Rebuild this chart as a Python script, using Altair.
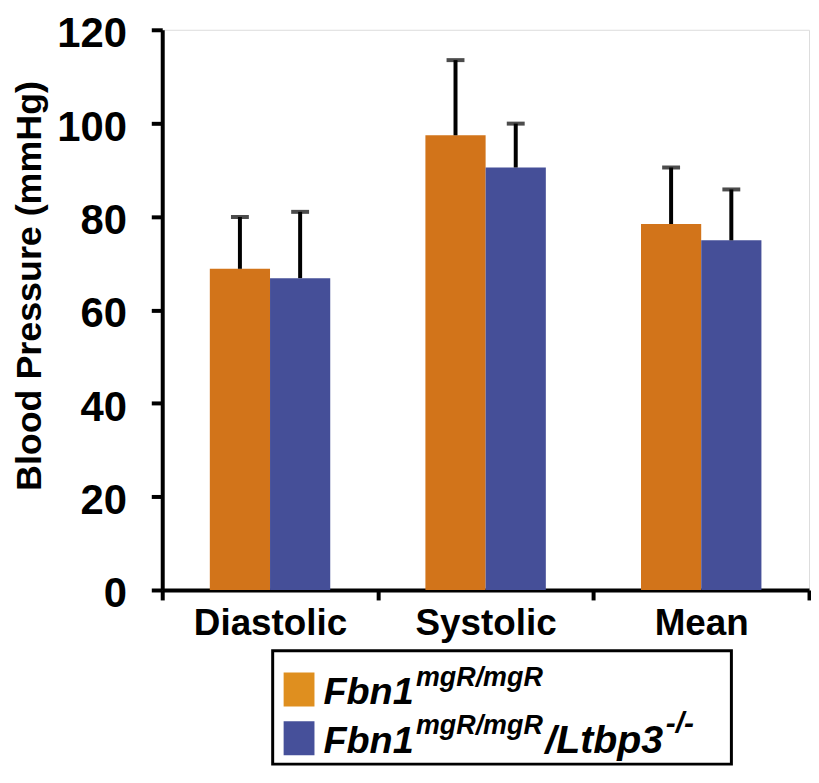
import altair as alt
import pandas as pd

categories = ["Diastolic", "Systolic", "Mean"]
groups = ["Fbn1 mgR/mgR", "Fbn1 mgR/mgR / Ltbp3 -/-"]
means_fbn1 = [68.8, 97.4, 78.4]
errs_fbn1 = [11.1, 16.1, 12.1]
means_dko = [66.8, 90.5, 74.9]
errs_dko = [14.2, 9.4, 10.9]
y_ticks = [0, 20, 40, 60, 80, 100, 120]

bar_colors = ["#D2741A", "#454F98"]
swatch_colors = ["#DF8F1F", "#46509A"]

rows = []
for i, c in enumerate(categories):
    rows.append({"category": c, "group": groups[0], "mean": means_fbn1[i], "upper": means_fbn1[i] + errs_fbn1[i]})
    rows.append({"category": c, "group": groups[1], "mean": means_dko[i], "upper": means_dko[i] + errs_dko[i]})
df = pd.DataFrame(rows)

FONT = "Liberation Sans"

x_enc = alt.X(
    "category:N", sort=categories,
    scale=alt.Scale(paddingInner=0, paddingOuter=0),
    axis=alt.Axis(
        title=None, tickBand="extent", labelAngle=0,
        labelFont=FONT, labelFontSize=37, labelFontWeight="bold", labelColor="black",
        labelPadding=6, tickSize=10, tickWidth=4, tickColor="black",
        domainWidth=4, domainColor="black", grid=False,
    ),
)
xo_enc = alt.XOffset("group:N", sort=groups, scale=alt.Scale(paddingInner=0, paddingOuter=0.79))
y_scale = alt.Scale(domain=[0, 120], nice=False)

base = alt.Chart(df)

bars = base.mark_bar(size=60.5).encode(
    x=x_enc,
    xOffset=xo_enc,
    y=alt.Y(
        "mean:Q", scale=y_scale,
        axis=alt.Axis(
            title="Blood Pressure (mmHg)", values=y_ticks, grid=False,
            labelFont=FONT, labelFontSize=42, labelFontWeight="bold", labelColor="black",
            labelPadding=25, labelOffset=4, tickSize=11, tickWidth=4, tickColor="black",
            domainWidth=4, domainColor="black",
            titleFont=FONT, titleFontSize=36, titleFontWeight="bold", titleColor="black",
            titleX=-122, titleY=257, titleAngle=-90, titleAlign="center", titleBaseline="alphabetic",
        ),
    ),
    color=alt.Color("group:N", sort=groups, scale=alt.Scale(domain=groups, range=bar_colors), legend=None),
)

err_lines = base.mark_rule(color="black", strokeWidth=4).encode(
    x=alt.X("category:N", sort=categories),
    xOffset=alt.XOffset("group:N", sort=groups),
    y="mean:Q",
    y2="upper:Q",
)

err_caps = base.mark_tick(color="black", thickness=4, size=18).encode(
    x=alt.X("category:N", sort=categories),
    xOffset=alt.XOffset("group:N", sort=groups),
    y="upper:Q",
)

one = alt.Data(values=[{"a": 1}])

# legend drawn in plot coordinates (plot origin: top-left of the plot area)
legend_box = alt.Chart(one).mark_rect(fill="white", stroke="black", strokeWidth=3).encode(
    x=alt.value(111), x2=alt.value(572), y=alt.value(624), y2=alt.value(738)
)
sw1 = alt.Chart(one).mark_rect(fill=swatch_colors[0]).encode(
    x=alt.value(122), x2=alt.value(153), y=alt.value(646), y2=alt.value(680)
)
sw2 = alt.Chart(one).mark_rect(fill=swatch_colors[1]).encode(
    x=alt.value(122), x2=alt.value(153), y=alt.value(695), y2=alt.value(729)
)

def txt(s, x, y, size):
    return alt.Chart(one).mark_text(
        text=s, font=FONT, fontSize=size, fontWeight="bold", fontStyle="italic",
        align="left", baseline="alphabetic", color="black",
    ).encode(x=alt.value(x), y=alt.value(y))

legend_texts = [
    txt("Fbn1", 162, 678, 38),
    txt("mgR/mgR", 255, 659, 27),
    txt("Fbn1", 162, 727, 38),
    txt("mgR/mgR", 255, 708, 27),
    txt("/Ltbp3", 385, 727, 39.5),
    txt("-/-", 506, 707, 30),
]

chart = alt.layer(bars, err_lines, err_caps, legend_box, sw1, sw2, *legend_texts).properties(
    width=650, height=563,
    padding={"left": 155, "top": 20, "right": 2, "bottom": 177},
    autosize=alt.AutoSizeParams(type="none"),
).configure_view(stroke=None).configure(background="white")

chart.save("out.html", embed_options={"renderer": "svg", "actions": False})
